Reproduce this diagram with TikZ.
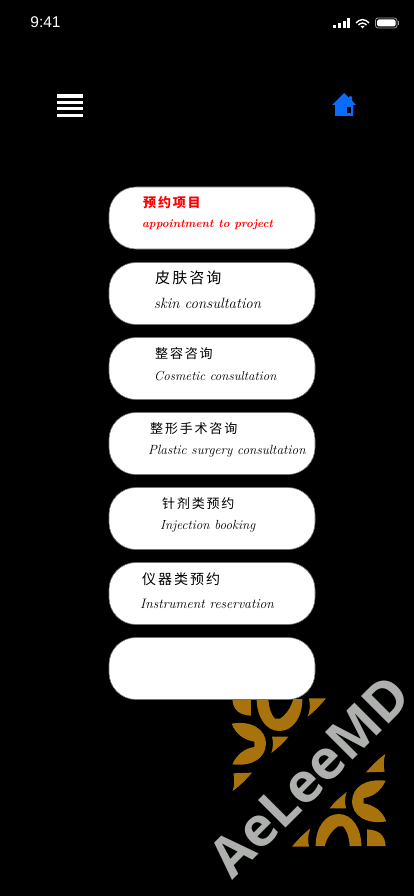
\documentclass[tikz,border=0pt]{standalone}
\usepackage{fontspec}
\usepackage{xcolor}
\newfontfamily\cjk[LetterSpace=14]{Noto Sans CJK SC}
\newfontfamily\statusfont{Liberation Sans}
\newfontfamily\markfont{Open Sans}
\definecolor{logogold}{HTML}{A8730C}
\definecolor{markgray}{HTML}{AEB0AE}
\definecolor{homeblue}{HTML}{0A6CFF}
\begin{document}
\begin{tikzpicture}[x=1pt,y=-1pt,
  pillbox/.style={draw=black!55, fill=white, rounded corners=27pt, minimum width=206pt, minimum height=62pt, inner sep=0pt, line width=0.6pt},
  zh/.style={anchor=west, inner sep=0pt, font=\cjk\fontsize{13}{13}\selectfont},
  en/.style={anchor=west, inner sep=0pt},
  petals/.pic={
    \fill[logogold] (115,207) -- (171,207) -- (171,257) .. controls (135,255) and (117,240) .. (115,207) -- cycle;
    \fill[logogold] (188,207) -- (223,207) .. controls (225,235) and (232,255) .. (243,266) -- (258,266) .. controls (275,255) and (292,232) .. (298,207) -- (325,207) .. controls (325,265) and (295,303) .. (256,303) .. controls (215,303) and (188,260) .. (188,207) -- cycle;
    \fill[logogold] (345,205) -- (396,205) .. controls (380,225) and (360,245) .. (341,260) .. controls (349,240) and (349,225) .. (345,205) -- cycle;
    \fill[logogold] (113,281) .. controls (175,270) and (215,300) .. (216,340) .. controls (215,385) and (175,410) .. (115,403) .. controls (128,375) and (150,355) .. (181,351) -- (181,335) .. controls (150,330) and (125,312) .. (113,281) -- cycle;
    \fill[logogold] (234,320) -- (283,320) .. controls (268,340) and (250,355) .. (232,369) .. controls (238,352) and (238,335) .. (234,320) -- cycle;
    \fill[logogold] (118,430) -- (174,428) .. controls (155,450) and (138,467) .. (116,483) .. controls (122,465) and (122,445) .. (118,430) -- cycle;
  }]
\useasboundingbox (0,0) rectangle (414,896);
\fill[black] (0,0) rectangle (414,896);
% ---- status bar ----
\node[text=white, inner sep=0pt, font=\statusfont\fontsize{15.5}{15}\selectfont] (clock) at (45.5,22.5) {9:41};
\fill[white] (332.5,25) rectangle (335.5,28);
\fill[white] (337.5,23.5) rectangle (340.5,28);
\fill[white] (342.5,21) rectangle (345.5,28);
\fill[white] (346.8,18) rectangle (349.8,28);
\draw[white, line width=1.4pt] (356,23) .. controls (359.5,18.5) and (365.5,18.5) .. (369,23);
\draw[white, line width=1.4pt] (358.5,25) .. controls (360.5,22.5) and (364.5,22.5) .. (366.5,25);
\fill[white] (360.5,26) -- (364.5,26) -- (362.5,28.5) -- cycle;
\draw[white!60!black, rounded corners=2.5pt, line width=0.8pt] (375.5,18) rectangle (397,28);
\fill[white, rounded corners=1.5pt] (377,19.5) rectangle (395.5,26.5);
\fill[white!60!black] (398,21.5) rectangle (399,25);
% ---- top icons ----
\foreach \y in {94.5,101,107.2,113.7} \fill[white] (57,\y) rectangle (83,\y+3.3);
\fill[homeblue] (335,116) -- (335,105) -- (332,105) -- (344,93) -- (349,98) -- (349,96.5) -- (352,96.5) -- (352,101) -- (356,105) -- (353,105) -- (353,116) -- cycle;
\fill[black] (347,107) rectangle (351,113);
% ---- logo behind the buttons ----
\begin{scope}[shift={(194,630)}, x=0.3333pt, y=-0.3333pt]
  \pic {petals};
\end{scope}
\begin{scope}[rotate around={180:(309,772.5)}, shift={(194,630)}, x=0.3333pt, y=-0.3333pt]
  \pic[transform shape] {petals};
\end{scope}
% ---- buttons ----
\foreach \y/\name in {218/appt,293.5/skin,368.5/cosmetic,443.5/plastic,518.5/injection,593.5/instrument,668.5/blank}
  \node[pillbox] (\name) at (212,\y) {};
\node[zh, text=red, font=\cjk\bfseries\fontsize{13}{13}\selectfont] (apptzh) at (143,202.5) {预约项目};
\node[en, text=red, font=\itshape\bfseries\fontsize{11.5}{14}\selectfont] (appten) at (142,225) {appointment to project};
\node[zh, font=\cjk\fontsize{15}{15}\selectfont] (skinzh) at (155,277.5) {皮肤咨询};
\node[en, font=\itshape\fontsize{14.9}{16}\selectfont] (skinen) at (154,303) {skin consultation};
\node[zh] (cosmeticzh) at (155,354) {整容咨询};
\node[en, font=\itshape\fontsize{13}{16}\selectfont] (cosmeticen) at (154,376) {Cosmetic consultation};
\node[zh] (plasticzh) at (150,429) {整形手术咨询};
\node[en, font=\itshape\fontsize{13.35}{16}\selectfont] (plasticen) at (148,451) {Plastic surgery consultation};
\node[zh] (injectionzh) at (162,504) {针剂类预约};
\node[en, font=\itshape\fontsize{13.2}{16}\selectfont] (injectionen) at (160,526) {Injection booking};
\node[zh, font=\cjk\fontsize{14}{14}\selectfont] (instrumentzh) at (142,579.5) {仪器类预约};
\node[en, font=\itshape\fontsize{13.7}{16}\selectfont] (instrumenten) at (140,604) {Instrument reservation};
% ---- watermark ----
\node[text=markgray, rotate=45, inner sep=0pt, font=\markfont\bfseries\fontsize{54.5}{54}\selectfont] (mark) at (310,776) {AeLeeMD};
\end{tikzpicture}
\end{document}
